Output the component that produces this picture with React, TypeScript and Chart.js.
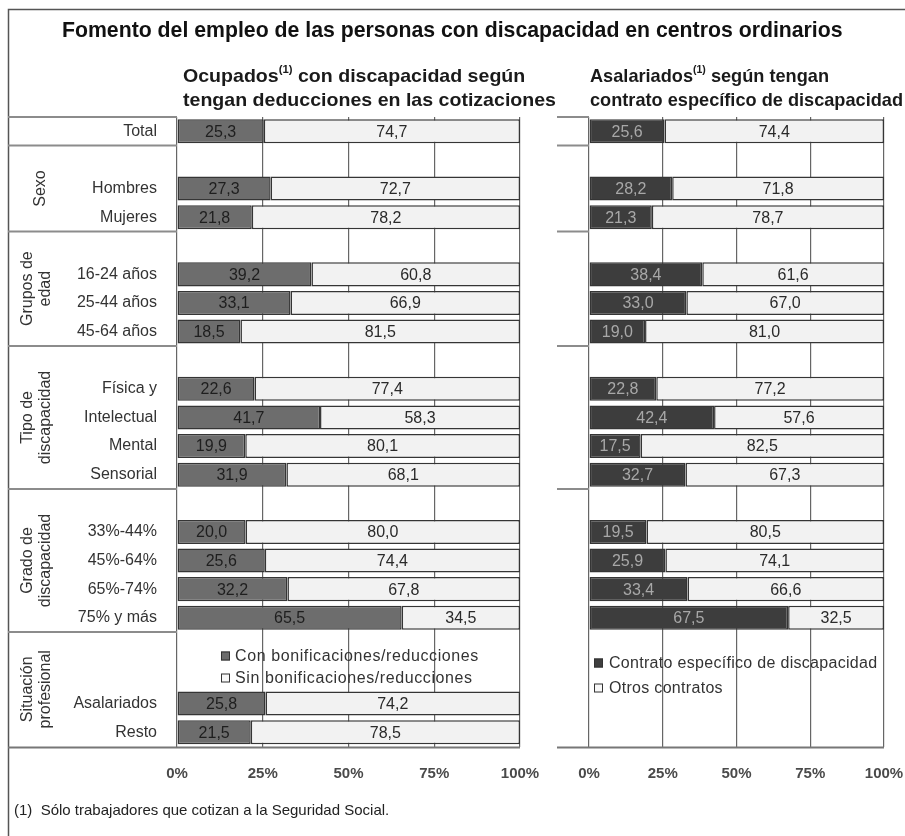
import React, { useEffect, useRef } from 'react';
import { Chart, registerables } from 'chart.js';
Chart.register(...registerables);

const categories = [
  'Total', '',
  'Hombres', 'Mujeres', '',
  '16-24 años', '25-44 años', '45-64 años', '',
  'Física y', 'Intelectual', 'Mental', 'Sensorial', '',
  '33%-44%', '45%-64%', '65%-74%', '75% y más', '', '',
  'Asalariados', 'Resto',
];

const conBonificaciones = [25.3, null, 27.3, 21.8, null, 39.2, 33.1, 18.5, null, 22.6, 41.7, 19.9, 31.9, null, 20.0, 25.6, 32.2, 65.5, null, null, 25.8, 21.5];
const sinBonificaciones = [74.7, null, 72.7, 78.2, null, 60.8, 66.9, 81.5, null, 77.4, 58.3, 80.1, 68.1, null, 80.0, 74.4, 67.8, 34.5, null, null, 74.2, 78.5];

const contratoEspecifico = [25.6, null, 28.2, 21.3, null, 38.4, 33.0, 19.0, null, 22.8, 42.4, 17.5, 32.7, null, 19.5, 25.9, 33.4, 67.5, null, null, null, null];
const otrosContratos = [74.4, null, 71.8, 78.7, null, 61.6, 67.0, 81.0, null, 77.2, 57.6, 82.5, 67.3, null, 80.5, 74.1, 66.6, 32.5, null, null, null, null];

const xTicks = [0, 25, 50, 75, 100];

const groups = [
  { from: 1, to: 3, lines: ['Sexo'] },
  { from: 4, to: 7, lines: ['Grupos de', 'edad'] },
  { from: 8, to: 12, lines: ['Tipo de', 'discapacidad'] },
  { from: 13, to: 17, lines: ['Grado de', 'discapacidad'] },
  { from: 18, to: 21, lines: ['Situación', 'profesional'] },
];
const leftSeparatorsAfter = [0, 3, 7, 12, 17];
const rightSeparatorsAfter = [0, 3, 7, 12];

const TITLE = 'Fomento del empleo de las personas con discapacidad en centros ordinarios';
const FOOTNOTE = '(1)  Sólo trabajadores que cotizan a la Seguridad Social.';

const SANS = "'Liberation Sans', Arial, Helvetica, sans-serif";

const W = 905;
const H = 836;
const TOP = 117;
const BOTTOM_PAD = 49.5;
const XAXIS_H = 40;

const fmt = (v: number) => v.toFixed(1).replace('.', ',');

function boundary(y: any, i: number) {
  return (y.getPixelForValue(i) + y.getPixelForValue(i + 1)) / 2;
}

function drawFitted(ctx: CanvasRenderingContext2D, parts: { t: string; sup?: boolean }[], x: number, y: number, size: number, sx: number) {
  ctx.save();
  ctx.translate(x, y);
  ctx.scale(sx, 1);
  let cx = 0;
  for (const p of parts) {
    if (p.sup) {
      ctx.font = `bold ${Math.round(size * 0.6)}px ${SANS}`;
      ctx.fillText(p.t, cx, -size * 0.38);
    } else {
      ctx.font = `bold ${size}px ${SANS}`;
      ctx.fillText(p.t, cx, 0);
    }
    cx += ctx.measureText(p.t).width;
  }
  ctx.restore();
}

function scaleFor(ctx: CanvasRenderingContext2D, text: string, size: number, target: number) {
  ctx.font = `bold ${size}px ${SANS}`;
  return target / ctx.measureText(text).width;
}

const valueLabels = (darkText: string, lightText: string) => ({
  id: 'valueLabels',
  afterDatasetsDraw(chart: any) {
    const ctx = chart.ctx as CanvasRenderingContext2D;
    ctx.save();
    ctx.font = `16px ${SANS}`;
    ctx.textAlign = 'center';
    ctx.textBaseline = 'middle';
    chart.data.datasets.forEach((ds: any, di: number) => {
      const meta = chart.getDatasetMeta(di);
      meta.data.forEach((el: any, i: number) => {
        const v = ds.data[i];
        if (v === null || v === undefined) return;
        ctx.fillStyle = di === 0 ? darkText : lightText;
        ctx.fillText(fmt(v), (el.x + el.base) / 2, el.y + 1);
      });
    });
    ctx.restore();
  },
});

const leftDecor = {
  id: 'leftDecor',
  beforeDraw(chart: any) {
    const ctx = chart.ctx as CanvasRenderingContext2D;
    ctx.save();
    ctx.fillStyle = '#fff';
    ctx.fillRect(0, 0, W, H);
    ctx.restore();
  },
  afterDraw(chart: any) {
    const ctx = chart.ctx as CanvasRenderingContext2D;
    const ca = chart.chartArea;
    const y = chart.scales.y;
    ctx.save();
    // frame
    ctx.strokeStyle = '#555';
    ctx.lineWidth = 1.5;
    ctx.beginPath();
    ctx.moveTo(8.5, H);
    ctx.lineTo(8.5, 9.5);
    ctx.lineTo(W, 9.5);
    ctx.stroke();

    // title
    ctx.fillStyle = '#111';
    ctx.textBaseline = 'middle';
    ctx.textAlign = 'left';
    let tsize = 19;
    ctx.font = `bold ${tsize}px ${SANS}`;
    tsize = tsize * 781 / ctx.measureText(TITLE).width;
    ctx.font = `bold ${tsize}px ${SANS}`;
    ctx.fillText(TITLE, 62, 31);

    // subtitles
    ctx.fillStyle = '#1a1a1a';
    const SUB = 19;
    const sL = scaleFor(ctx, 'tengan deducciones en las cotizaciones', SUB, 373);
    drawFitted(ctx, [{ t: 'Ocupados' }, { t: '(1)', sup: true }, { t: ' con discapacidad según' }], 183, 77, SUB, sL);
    drawFitted(ctx, [{ t: 'tengan deducciones en las cotizaciones' }], 183, 101, SUB, sL);
    const sR = scaleFor(ctx, 'contrato específico de discapacidad', SUB, 313);
    drawFitted(ctx, [{ t: 'Asalariados' }, { t: '(1)', sup: true }, { t: ' según tengan' }], 590, 77, SUB, sR);
    drawFitted(ctx, [{ t: 'contrato específico de discapacidad' }], 590, 101, SUB, sR);

    // footnote
    ctx.font = `15px ${SANS}`;
    ctx.fillStyle = '#222';
    ctx.fillText(FOOTNOTE, 14, 811);

    // section lines in label area
    ctx.strokeStyle = '#8c8c8c';
    ctx.lineWidth = 2;
    ctx.beginPath();
    ctx.moveTo(8, ca.top);
    ctx.lineTo(ca.left, ca.top);
    for (const i of leftSeparatorsAfter) {
      const yy = boundary(y, i);
      ctx.moveTo(8, yy);
      ctx.lineTo(ca.left, yy);
    }
    ctx.stroke();
    ctx.strokeStyle = '#777';
    ctx.beginPath();
    ctx.moveTo(8, ca.bottom + 1);
    ctx.lineTo(ca.right, ca.bottom + 1);
    ctx.stroke();

    // group labels
    ctx.fillStyle = '#333';
    ctx.font = `16px ${SANS}`;
    ctx.textAlign = 'center';
    ctx.textBaseline = 'middle';
    for (const g of groups) {
      const y0 = g.from === 0 ? ca.top : boundary(y, g.from - 1);
      const y1 = g.to === categories.length - 1 ? ca.bottom : boundary(y, g.to);
      const cy = (y0 + y1) / 2;
      const xs = g.lines.length === 1 ? [41] : [28, 46];
      g.lines.forEach((ln, k) => {
        ctx.save();
        ctx.translate(xs[k], cy);
        ctx.rotate(-Math.PI / 2);
        ctx.fillText(ln, 0, 0);
        ctx.restore();
      });
    }

    // legend
    const legend = [
      { t: 'Con bonificaciones/reducciones', c: '#6d6d6d', y: 656 },
      { t: 'Sin bonificaciones/reducciones', c: '#f8f8f8', y: 678 },
    ];
    ctx.textAlign = 'left';
    ctx.font = `16px ${SANS}`;
    for (const l of legend) {
      ctx.fillStyle = l.c;
      ctx.fillRect(ca.left + 44, l.y - 4.5, 9, 9);
      ctx.strokeStyle = '#333';
      ctx.lineWidth = 1;
      ctx.strokeRect(ca.left + 44.5, l.y - 4, 8, 8);
      ctx.fillStyle = '#333';
      (ctx as any).letterSpacing = '0.6px';
      ctx.fillText(l.t, ca.left + 58, l.y + 1);
      (ctx as any).letterSpacing = '0px';
    }
    ctx.restore();
  },
};

const rightDecor = {
  id: 'rightDecor',
  afterDraw(chart: any) {
    const ctx = chart.ctx as CanvasRenderingContext2D;
    const ca = chart.chartArea;
    const y = chart.scales.y;
    ctx.save();
    ctx.strokeStyle = '#8c8c8c';
    ctx.lineWidth = 2;
    ctx.beginPath();
    ctx.moveTo(557, ca.top);
    ctx.lineTo(ca.left, ca.top);
    for (const i of rightSeparatorsAfter) {
      const yy = boundary(y, i);
      ctx.moveTo(557, yy);
      ctx.lineTo(ca.left, yy);
    }
    ctx.stroke();
    ctx.strokeStyle = '#777';
    ctx.beginPath();
    ctx.moveTo(557, ca.bottom + 1);
    ctx.lineTo(ca.right, ca.bottom + 1);
    ctx.stroke();

    const legend = [
      { t: 'Contrato específico de discapacidad', c: '#3f3f3f', y: 663 },
      { t: 'Otros contratos', c: '#f8f8f8', y: 688 },
    ];
    ctx.textAlign = 'left';
    ctx.textBaseline = 'middle';
    ctx.font = `16px ${SANS}`;
    for (const l of legend) {
      ctx.fillStyle = l.c;
      ctx.fillRect(ca.left + 5, l.y - 4.5, 9, 9);
      ctx.strokeStyle = '#333';
      ctx.lineWidth = 1;
      ctx.strokeRect(ca.left + 5.5, l.y - 4, 8, 8);
      ctx.fillStyle = '#333';
      (ctx as any).letterSpacing = '0.3px';
      ctx.fillText(l.t, ca.left + 20, l.y + 1);
      (ctx as any).letterSpacing = '0px';
    }
    ctx.restore();
  },
};

function makeConfig(opts: {
  darkData: (number | null)[];
  lightData: (number | null)[];
  darkLabel: string;
  lightLabel: string;
  darkColor: string;
  darkText: string;
  yWidth: number;
  rightPad: number;
  showLabels: boolean;
  plugins: any[];
}): any {
  const barCommon = {
    borderColor: '#353535',
    borderWidth: 1.5,
    borderSkipped: false,
    barPercentage: 0.84,
    categoryPercentage: 1,
  };
  return {
    type: 'bar',
    data: {
      labels: categories,
      datasets: [
        { label: opts.darkLabel, data: opts.darkData, backgroundColor: opts.darkColor, ...barCommon },
        { label: opts.lightLabel, data: opts.lightData, backgroundColor: '#f2f2f2', ...barCommon },
      ],
    },
    options: {
      indexAxis: 'y',
      responsive: false,
      maintainAspectRatio: false,
      animation: false,
      layout: { padding: { left: 0, top: TOP, right: opts.rightPad, bottom: BOTTOM_PAD } },
      plugins: { legend: { display: false }, tooltip: { enabled: false }, title: { display: false } },
      scales: {
        x: {
          stacked: true,
          min: 0,
          max: 100,
          afterBuildTicks: (s: any) => { s.ticks = xTicks.map((v) => ({ value: v })); },
          ticks: {
            callback: (v: any) => v + '%',
            font: { family: SANS, size: 15, weight: 'bold' },
            color: '#4a4a4a',
            padding: 18,
            maxRotation: 0,
          },
          grid: { color: '#666', lineWidth: 1.2, drawTicks: false },
          border: { display: false },
          afterFit: (s: any) => {
            s.height = XAXIS_H;
            s.paddingLeft = 0;
            s.paddingRight = 0;
          },
        },
        y: {
          stacked: true,
          grid: { display: false },
          border: { display: false },
          ticks: {
            display: opts.showLabels,
            autoSkip: false,
            font: { family: SANS, size: 16 },
            color: '#333',
            padding: 12,
          },
          afterFit: (s: any) => {
            s.width = opts.yWidth;
            s.paddingTop = 0;
            s.paddingBottom = 0;
          },
        },
      },
    },
    plugins: [valueLabels(opts.darkText, '#2a2a2a'), ...opts.plugins],
  };
}

export default function App() {
  const leftRef = useRef<HTMLCanvasElement>(null);
  const rightRef = useRef<HTMLCanvasElement>(null);

  useEffect(() => {
    const left = new Chart(leftRef.current as HTMLCanvasElement, makeConfig({
      darkData: conBonificaciones,
      lightData: sinBonificaciones,
      darkLabel: 'Con bonificaciones/reducciones',
      lightLabel: 'Sin bonificaciones/reducciones',
      darkColor: '#6d6d6d',
      darkText: '#1e1e1e',
      yWidth: 177,
      rightPad: W - 520,
      showLabels: true,
      plugins: [leftDecor],
    }));
    const right = new Chart(rightRef.current as HTMLCanvasElement, makeConfig({
      darkData: contratoEspecifico,
      lightData: otrosContratos,
      darkLabel: 'Contrato específico de discapacidad',
      lightLabel: 'Otros contratos',
      darkColor: '#3d3d3d',
      darkText: '#a8a8a8',
      yWidth: 589,
      rightPad: W - 884,
      showLabels: false,
      plugins: [rightDecor],
    }));
    return () => {
      left.destroy();
      right.destroy();
    };
  }, []);

  return (
    <div style={{ position: 'absolute', left: 0, top: 0, width: W, height: H, background: '#fff' }}>
      <canvas ref={leftRef} width={W} height={H} style={{ position: 'absolute', left: 0, top: 0, width: W, height: H }} />
      <canvas ref={rightRef} width={W} height={H} style={{ position: 'absolute', left: 0, top: 0, width: W, height: H }} />
    </div>
  );
}
